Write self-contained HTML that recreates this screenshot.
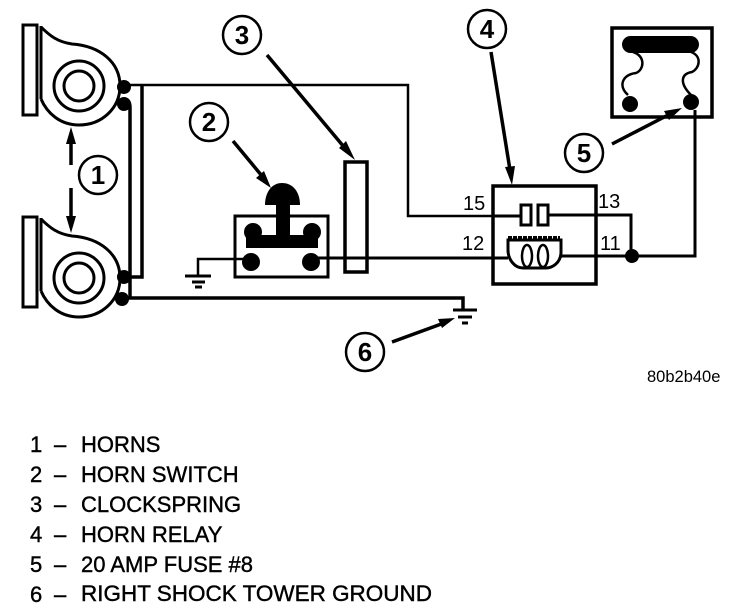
<!DOCTYPE html>
<html><head><meta charset="utf-8"><style>
html,body{margin:0;padding:0;background:#fff}
svg{display:block}
text{font-family:"Liberation Sans",sans-serif;fill:#000}
.n{font-size:26px;font-weight:bold;text-anchor:middle}
.l{font-size:22px;stroke:#000;stroke-width:.4px}
.p{font-size:20px}
</style></head><body>
<svg width="752" height="608" viewBox="0 0 752 608" xmlns="http://www.w3.org/2000/svg" fill="none" stroke="#000" stroke-width="2">
<defs>
<g id="horn">
<rect x="23" y="25" width="14" height="90" stroke-width="3"/>
<path d="M41 27C50 36 58 42 72 44C100 46 120 62 120 86C120 108 102 125 79 125C60 125 47 113 41 99M41 26V99" stroke-width="3"/>
<circle cx="79" cy="86" r="25" stroke-width="3"/>
<circle cx="79" cy="86" r="15" stroke-width="3"/>
</g>
</defs>
<use href="#horn"/>
<use href="#horn" y="192"/>
<g fill="#000" stroke="none">
<circle cx="124" cy="87" r="7"/><circle cx="124" cy="104" r="7"/>
<circle cx="124" cy="277" r="7"/><circle cx="122" cy="299" r="7"/>
</g>
<path d="M124 85H408V216H493" stroke-width="2.5"/>
<path d="M142 85V277H126" stroke-width="3.5"/>
<path d="M124 99C129 100 130 103 130 108V299" stroke-width="3.5"/>
<path d="M122 298H463V311" stroke-width="3.5"/>
<path d="M453 310H477M458 317H472M462 323H468" stroke-width="3"/>
<!-- switch -->
<rect x="235" y="216" width="93" height="61" stroke-width="3"/>
<path d="M265 205C265 192 272 183 282 183C293 183 300 192 300 205Z" fill="#000" stroke="none"/>
<rect x="276" y="203" width="14" height="33" fill="#000" stroke="none"/>
<rect x="246" y="235" width="72" height="13" fill="#000" stroke="none"/>
<g fill="#000" stroke="none">
<circle cx="253" cy="232" r="9"/><circle cx="312" cy="232" r="9"/>
<circle cx="251" cy="262" r="9"/><circle cx="311" cy="262" r="9"/>
</g>
<path d="M245 259H198V276" stroke-width="2.5"/>
<path d="M185 276H211M192 282H205M195 287H202" stroke-width="3"/>
<rect x="345" y="162" width="22" height="110" stroke-width="3.5" fill="none"/>
<path d="M311 258H508" stroke-width="3"/>
<!-- relay -->
<rect x="493" y="186" width="103" height="98" stroke-width="3.5"/>
<path d="M493 216H521M549 215H631V255M552 256H695V110" stroke-width="3"/>
<rect x="521" y="205" width="10" height="20" fill="#fff" stroke-width="3"/>
<rect x="538" y="205" width="10" height="20" fill="#fff" stroke-width="3"/>
<path d="M508 240H561V252C561 263 552 268 546 268H523C515 268 508 260 508 250Z" fill="#fff" stroke-width="3"/>
<path d="M508 238H560" stroke-width="4" stroke-dasharray="4 1"/>
<ellipse cx="527" cy="256" rx="5" ry="11" stroke-width="2.5"/><ellipse cx="543" cy="256" rx="5" ry="11" stroke-width="2.5"/>
<circle cx="632" cy="256" r="7" fill="#000" stroke="none"/>
<!-- fuse -->
<rect x="612" y="28" width="100" height="89" stroke-width="3.5"/>
<rect x="622" y="36" width="77" height="17" rx="8.5" fill="#000" stroke="none"/>
<path d="M633 52C646 56 644 70 636 73C622 75 618 86 628 95M691 52C702 56 700 68 692 72C680 74 680 84 691 95" stroke-width="2.5"/>
<circle cx="630" cy="104" r="8" fill="#000" stroke="none"/>
<circle cx="691" cy="102" r="8" fill="#000" stroke="none"/>
<!-- callouts -->
<g stroke-width="2.5" fill="#fff">
<circle cx="98" cy="175" r="19"/>
<circle cx="209" cy="122" r="19"/>
<circle cx="242" cy="35" r="19"/>
<circle cx="487" cy="29" r="19"/>
<circle cx="584" cy="153" r="19"/>
<circle cx="365" cy="352" r="19"/>
</g>
<g stroke="none">
<text class="n" x="98" y="184">1</text>
<text class="n" x="209" y="131">2</text>
<text class="n" x="242" y="44">3</text>
<text class="n" x="487" y="38">4</text>
<text class="n" x="584" y="162">5</text>
<text class="n" x="365" y="361">6</text>
<path d="M71 127L66 144H76ZM71 233L66 216H76ZM271 188L256 178L264 171ZM355 160L339 148L346 141ZM512 185L505 167L515 166ZM682 108L664 111L669 120ZM455 318L438 319L442 328Z" fill="#000"/>
</g>
<path d="M71 140V165M71 188V220M233 141L262 176M267 55L344 147M491 52L510 170M612 144L670 114M392 342L444 323" stroke-width="3.5"/>
<g stroke="none">
<text class="p" x="463" y="210">15</text><text class="p" x="598" y="208">13</text>
<text class="p" x="462" y="250">12</text><text class="p" x="600" y="250">11</text>
<text x="647" y="382" font-size="16.5">80b2b40e</text>
<text class="l" x="30" y="452">1</text><text class="l" x="54" y="452">–</text><text class="l" x="81" y="452">HORNS</text>
<text class="l" x="30" y="482">2</text><text class="l" x="54" y="482">–</text><text class="l" x="81" y="482">HORN SWITCH</text>
<text class="l" x="30" y="512">3</text><text class="l" x="54" y="512">–</text><text class="l" x="81" y="512">CLOCKSPRING</text>
<text class="l" x="30" y="542">4</text><text class="l" x="54" y="542">–</text><text class="l" x="81" y="542">HORN RELAY</text>
<text class="l" x="30" y="572">5</text><text class="l" x="54" y="572">–</text><text class="l" x="81" y="572">20 AMP FUSE #8</text>
<text class="l" x="30" y="602">6</text><text class="l" x="54" y="602">–</text><text class="l" x="81" y="601" textLength="351" lengthAdjust="spacingAndGlyphs">RIGHT SHOCK TOWER GROUND</text>
</g>
</svg>
</body></html>
